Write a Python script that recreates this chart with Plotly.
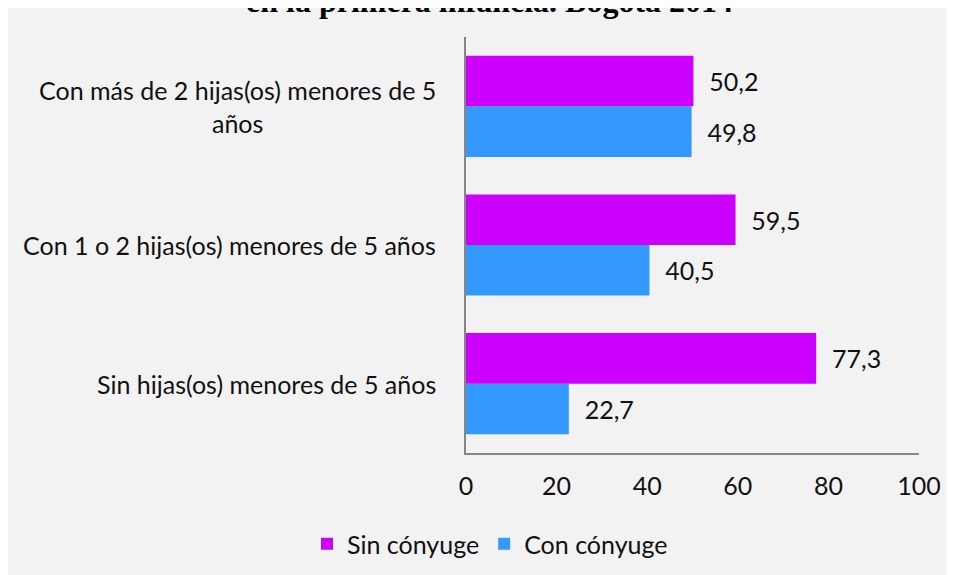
import plotly.graph_objects as go

# --- datos ---
CATEGORIAS = ["Sin hijas(os) menores de 5 años",
              "Con 1 o 2 hijas(os) menores de 5 años",
              "Con más de 2 hijas(os) menores de 5 años"]
ETIQUETAS = ["Sin hijas(os) menores de 5 años",
             "Con 1 o 2 hijas(os) menores de 5 años",
             "Con más de 2 hijas(os) menores de 5<br>años"]
SIN_CONYUGE = [77.3, 59.5, 50.2]
CON_CONYUGE = [22.7, 40.5, 49.8]
X_TICKS = [0, 20, 40, 60, 80, 100]
TITULO = "en la primera infancia. Bogotá 2014"

MAGENTA = "#CC00FF"; AZUL = "#3399FF"
GRIS = "#F2F2F2"; EJE = "#868686"; INK = "#111111"
FONT = "Lato, 'Noto Sans', sans-serif"
SERIF = "'Liberation Serif', 'Times New Roman', serif"
FS = 25

W, H = 954, 575
L, R, T, B = 458, 43, 29, 130
PW, PH = W - L - R, H - T - B


def px(x):  # pixel horizontal -> paper
    return (x - L) / PW


def py(y):  # pixel vertical (desde arriba) -> paper
    return (H - B - y) / PH


def fmt(v):
    return "\u00a0\u00a0" + f"{v:.1f}".replace(".", ",")


fig = go.Figure()
fig.add_trace(go.Bar(y=CATEGORIAS, x=CON_CONYUGE, orientation="h", name="Con cónyuge",
                     marker=dict(color=AZUL, line=dict(width=0)),
                     text=[fmt(v) for v in CON_CONYUGE], textposition="outside",
                     textfont=dict(family=FONT, size=FS, color=INK), cliponaxis=False))
fig.add_trace(go.Bar(y=CATEGORIAS, x=SIN_CONYUGE, orientation="h", name="Sin cónyuge",
                     marker=dict(color=MAGENTA, line=dict(width=0)),
                     text=[fmt(v) for v in SIN_CONYUGE], textposition="outside",
                     textfont=dict(family=FONT, size=FS, color=INK), cliponaxis=False))

for cat, lab in zip(CATEGORIAS, ETIQUETAS):
    fig.add_annotation(x=0, xref="paper", y=cat, yref="y", text=lab, showarrow=False,
                       xanchor="right", align="center", xshift=-28,
                       font=dict(family=FONT, size=FS, color=INK))

# titulo (solo se ve la parte inferior, recortado arriba)
fig.add_annotation(x=px(481), xref="paper", y=py(13), yref="paper", text="<b>" + TITULO + "</b>",
                   showarrow=False, xanchor="center", yanchor="bottom",
                   font=dict(family=SERIF, size=32, color="black"))

fig.update_xaxes(range=[0, 100], tickvals=X_TICKS, showgrid=False, zeroline=False,
                 showline=True, linecolor=EJE, linewidth=1.5, ticks="",
                 tickfont=dict(family=FONT, size=FS, color=INK), ticklabelstandoff=10,
                 fixedrange=True)
fig.update_yaxes(showticklabels=False, showgrid=False, zeroline=False,
                 showline=True, linecolor=EJE, linewidth=1.5, ticks="", fixedrange=True)

fig.update_layout(
    width=W, height=H, margin=dict(l=L, r=R, t=T, b=B),
    paper_bgcolor=GRIS, plot_bgcolor="rgba(0,0,0,0)",
    barmode="group", bargap=0.27, bargroupgap=0,
    font=dict(family=FONT, size=FS, color=INK),
    showlegend=True,
    legend=dict(orientation="h", x=px(482), xanchor="center", y=py(536), yanchor="middle",
                traceorder="reversed", font=dict(family=FONT, size=FS, color=INK),
                bgcolor="rgba(0,0,0,0)"),
)

fig.write_html("out.html")
